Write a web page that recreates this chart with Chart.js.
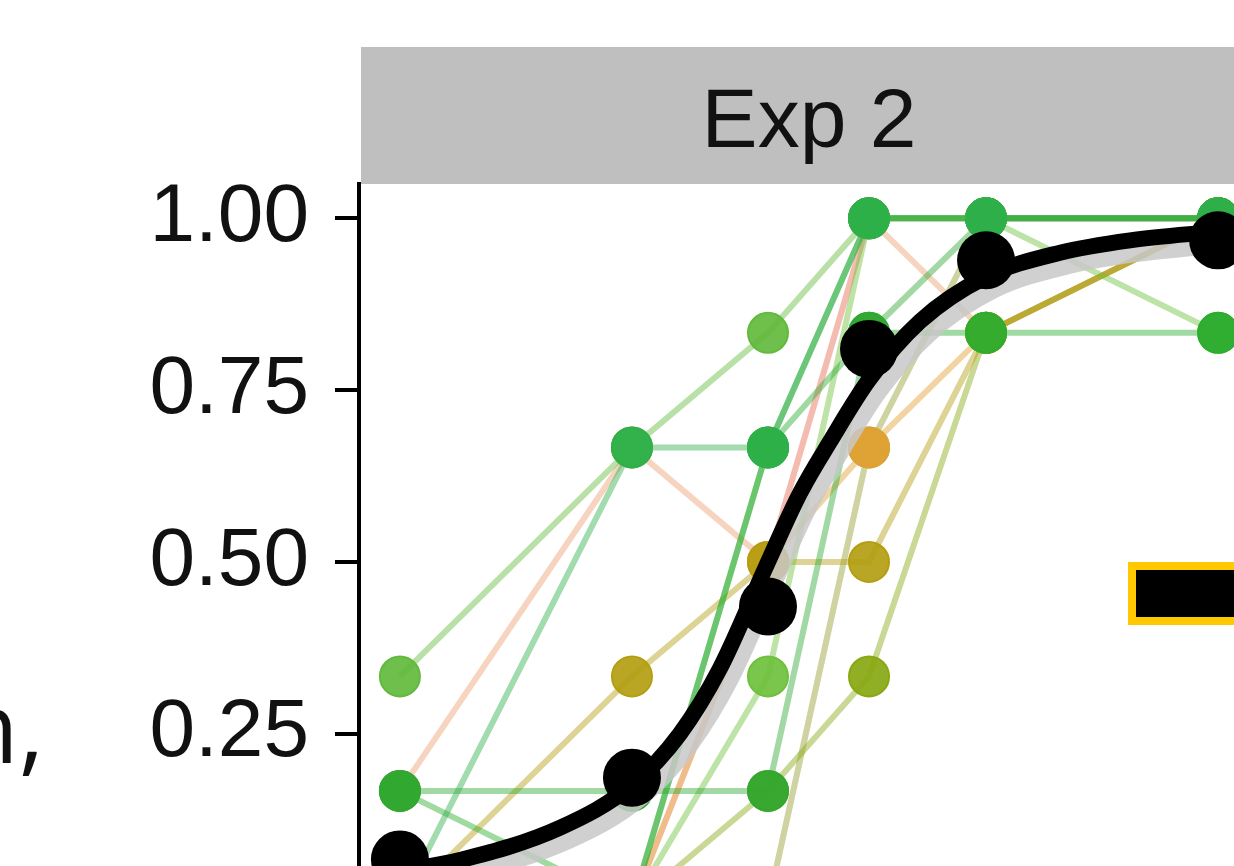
<!DOCTYPE html>
<html lang="en">
    <head>
        <meta charset="utf-8">
        <title>Exp 2</title>
        <script src="https://cdn.jsdelivr.net/npm/chart.js@4.4.1/dist/chart.umd.min.js"></script>
        <style>
            html, body { margin: 0; padding: 0; background: #fff; overflow: hidden; width: 1234px; height: 866px; }
            canvas { display: block; }
        </style>
    </head>
    <body>
        <canvas id="chart" width="1300" height="1015"></canvas>

       <script>
        // stimulus levels (x) and y ticks
        const xLevels = [0, 2.32, 3.68, 4.69, 5.86, 8.18];
        const yTicks = [0, 0.25, 0.5, 0.75, 1];
        const panelTitle = 'Exp 2';

        // per-subject proportions, in sixths, one value per level
        // (listed top-most first)
        const subjects = ['S12','S1','S9','S5','S2','S6','S4','S7','S8','S13','S11','S10','S3'];
        const subjectColors = ['#2fb04c','#31a832','#2aad2a','#2aad30','#62ba3c','#6fc03c',
                               '#b49e12','#88a812','#e2a030','#a8c070','#d9bf85','#f2a0a0','#eea070'];
        const subjectSixths = [
            [0, 4, 4, 6, 6, 6],
            [1, 1, 1, 5, 6, 6],
            [1, 0, 4, 6, 6, 6],
            [0, 0, 4, 5, 5, 5],
            [2, 4, 5, 6, 6, 6],
            [0, 0, 2, 6, 6, 5],
            [0, 2, 3, 3, 5, 6],
            [0, 0, 1, 2, 5, 6],
            [0, 0, 3, 4, 5, 6],
            [0, 0, 0, 4, 6, 6],
            [0, 0, 0, 4, 6, 6],
            [0, 0, 3, 6, 6, 6],
            [1, 4, 3, 6, 5, 6]
        ];

        // group means (black points)
        const meanValues = [0.067, 0.186, 0.435, 0.81, 0.939, 0.968];

        // fitted curve
        const curveX = [0, 0.6, 1.6, 2.32, 2.8, 3.2, 3.65, 4.0, 4.3, 4.69, 5.2, 5.86, 6.6, 7.3, 8.18];
        const curveY = [0.05, 0.066, 0.113, 0.175, 0.25, 0.345, 0.49, 0.6, 0.675, 0.765, 0.85, 0.915, 0.95, 0.968, 0.981];

        function hexA(hex, a) {
            const n = parseInt(hex.slice(1), 16);
            return `rgba(${(n >> 16) & 255}, ${(n >> 8) & 255}, ${n & 255}, ${a})`;
        }

        const datasets = [];

        // black mean points on top
        datasets.push({
            data: xLevels.map((x, i) => ({x: x, y: meanValues[i]})),
            showLine: false,
            pointRadius: 29,
            pointBackgroundColor: '#000',
            pointBorderWidth: 0,
            order: 0
        });
        // fitted curve
        datasets.push({
            data: curveX.map((x, i) => ({x: x, y: curveY[i]})),
            showLine: true,
            borderColor: '#000',
            borderWidth: 16,
            pointRadius: 0,
            cubicInterpolationMode: 'monotone',
            order: 1
        });
        // confidence band
        datasets.push({
            data: curveX.map((x, i) => ({x: x + 0.07, y: curveY[i] - 0.014})),
            showLine: true,
            borderColor: 'rgba(200, 200, 200, 0.85)',
            borderWidth: 24,
            pointRadius: 0,
            cubicInterpolationMode: 'monotone',
            order: 2
        });

        subjects.forEach((s, k) => {
            const pts = xLevels.map((x, i) => ({x: x, y: subjectSixths[k][i] / 6}));
            datasets.push({
                label: s,
                data: pts,
                showLine: false,
                pointRadius: 20,
                pointBackgroundColor: hexA(subjectColors[k], 0.92),
                pointBorderColor: hexA(subjectColors[k], 1),
                pointBorderWidth: 2,
                order: 3
            });
            datasets.push({
                data: pts,
                showLine: true,
                borderColor: hexA(subjectColors[k], 0.45),
                borderWidth: 6,
                pointRadius: 0,
                order: 4
            });
        });

        const stripPlugin = {
            id: 'strip',
            beforeDraw(chart) {
                const ctx = chart.ctx, a = chart.chartArea;
                ctx.save();
                ctx.fillStyle = '#bfbfbf';
                ctx.fillRect(a.left + 2, 47, a.right - a.left, a.top - 47);
                ctx.fillStyle = '#111';
                ctx.font = '84px "Liberation Sans", Arial, sans-serif';
                ctx.textAlign = 'center';
                ctx.textBaseline = 'alphabetic';
                ctx.fillText(panelTitle, (a.left + a.right) / 2, 147);
                ctx.restore();
            },
            afterDraw(chart) {
                const ctx = chart.ctx;
                ctx.save();
                // piece of the axis title on the left
                ctx.fillStyle = '#111';
                ctx.font = '98px "Open Sans", "Noto Sans", sans-serif';
                ctx.textAlign = 'right';
                ctx.textBaseline = 'alphabetic';
                ctx.fillText('n,', 44, 763);
                // legend key box at the right edge
                ctx.fillStyle = '#ffc800';
                ctx.fillRect(1128, 562, 140, 63);
                ctx.fillStyle = '#000';
                ctx.fillRect(1136, 570, 140, 47);
                ctx.restore();
            }
        };

        new Chart(document.getElementById('chart').getContext('2d'), {
            type: 'scatter',
            data: { datasets: datasets },
            plugins: [stripPlugin],
            options: {
                responsive: false,
                animation: false,
                layout: { padding: { left: 0, top: 184, right: 41, bottom: 20 } },
                plugins: { legend: { display: false }, tooltip: { enabled: false } },
                scales: {
                    x: {
                        type: 'linear',
                        display: false,
                        min: -0.409,
                        max: 8.589
                    },
                    y: {
                        min: -0.05,
                        max: 1.05,
                        afterFit(scale) { scale.width = 359; },
                        afterBuildTicks(scale) { scale.ticks = yTicks.map(v => ({value: v})); },
                        border: { display: true, color: '#000', width: 4 },
                        grid: { drawOnChartArea: false, drawTicks: true, tickLength: 24, color: '#000', lineWidth: 4 },
                        ticks: {
                            padding: 26,
                            color: '#111',
                            font: { family: '"Liberation Sans", Arial, sans-serif', size: 82 },
                            callback: v => Number(v).toFixed(2)
                        }
                    }
                }
            }
        });
       </script>
    </body>
</html>
